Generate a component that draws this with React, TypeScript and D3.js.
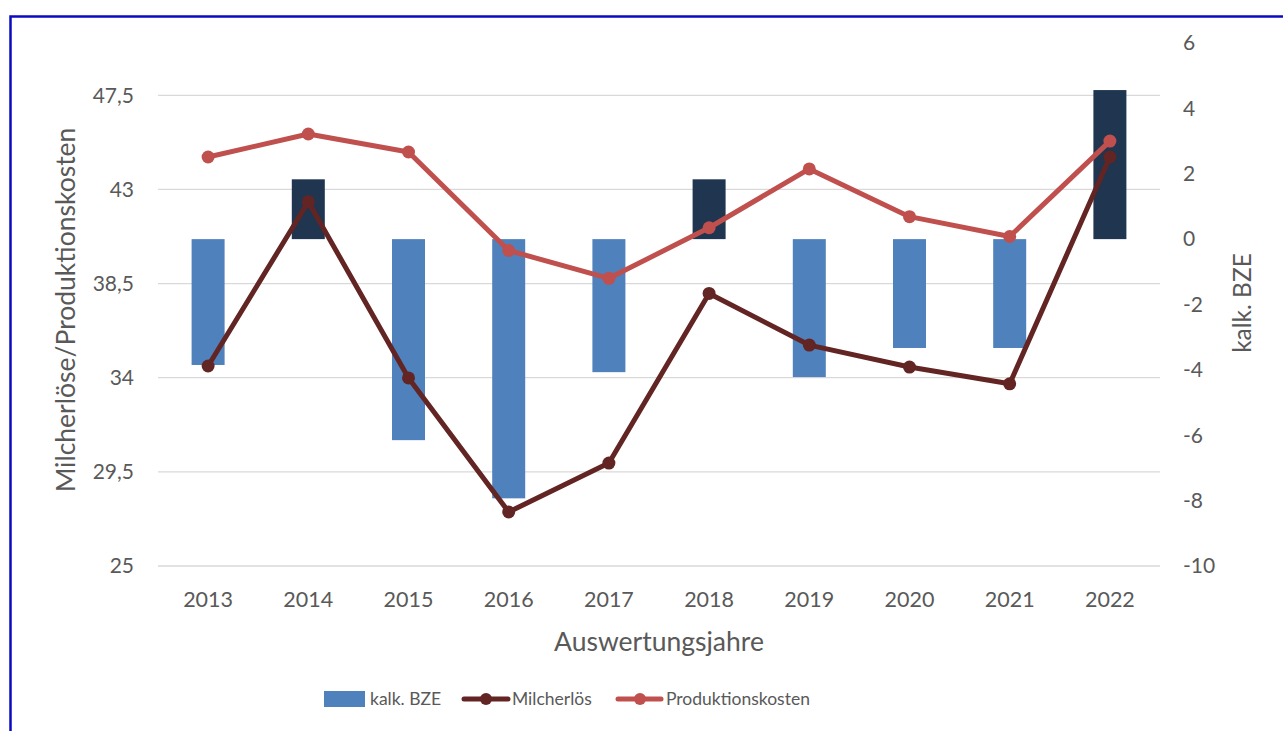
import * as d3 from "d3";
import React from "react";

const years = ["2013", "2014", "2015", "2016", "2017", "2018", "2019", "2020", "2021", "2022"];
const bze = [-3.85, 1.83, -6.15, -7.93, -4.07, 1.83, -4.22, -3.33, -3.33, 4.56];
const milcherloes = [34.56, 42.41, 33.99, 27.58, 29.92, 38.03, 35.56, 34.51, 33.71, 44.55];
const produktionskosten = [44.55, 45.65, 44.79, 40.08, 38.75, 41.17, 43.98, 41.7, 40.75, 45.31];
const leftTicks = [25, 29.5, 34, 38.5, 43, 47.5];
const rightTicks = [6, 4, 2, 0, -2, -4, -6, -8, -10];

const W = 1283;
const H = 731;
const FONT = "Lato, 'Open Sans', sans-serif";
const TEXT = "#595959";

export default function App() {
  const x0 = 158, x1 = 1160, yTop = 43, yBot = 566;

  const x = d3.scaleBand().domain(years).range([x0, x1]).paddingInner(0).paddingOuter(0);
  const yL = d3.scaleLinear().domain([25, 50]).range([yBot, yTop]);
  const yR = d3.scaleLinear().domain([-10, 6]).range([yBot, yTop]);
  const barW = 33;
  const cx = (y: string) => (x(y) as number) + x.bandwidth() / 2;

  const milchPath = d3.line<number>().x((_, i) => cx(years[i])).y((d) => yL(d))(milcherloes) as string;
  const prodPath = d3.line<number>().x((_, i) => cx(years[i])).y((d) => yL(d))(produktionskosten) as string;

  const fmt = (v: number) => String(v).replace(".", ",");

  return (
    <div style={{ position: "absolute", left: 0, top: 0 }}>
      <svg width={W} height={H} style={{ display: "block", background: "#fff" }}>
        <rect x={10.5} y={16.5} width={W + 20} height={H + 20} fill="none" stroke="#0a0ac0" strokeWidth={2.5} />

        {/* gridlines from left axis */}
        {leftTicks.map((t) => (
          <line key={t} x1={x0} x2={x1} y1={yL(t)} y2={yL(t)} stroke="#d9d9d9" strokeWidth={1.3} />
        ))}

        {/* bars */}
        {bze.map((v, i) => (
          <rect
            key={years[i]}
            x={cx(years[i]) - barW / 2}
            width={barW}
            y={Math.min(yR(v), yR(0))}
            height={Math.abs(yR(v) - yR(0))}
            fill={v >= 0 ? "#1f3550" : "#4f81bd"}
          />
        ))}

        {/* lines */}
        <path d={prodPath} fill="none" stroke="#c0504d" strokeWidth={5} strokeLinejoin="round" />
        {produktionskosten.map((v, i) => (
          <circle key={"p" + i} cx={cx(years[i])} cy={yL(v)} r={6.5} fill="#c0504d" />
        ))}
        <path d={milchPath} fill="none" stroke="#632523" strokeWidth={5} strokeLinejoin="round" />
        {milcherloes.map((v, i) => (
          <circle key={"m" + i} cx={cx(years[i])} cy={yL(v)} r={6.5} fill="#632523" />
        ))}

        {/* left ticks */}
        {leftTicks.map((t) => (
          <text key={t} x={134} y={yL(t)} dy="0.35em" textAnchor="end" fontFamily={FONT} fontSize={21} fill={TEXT}>
            {fmt(t)}
          </text>
        ))}
        {/* right ticks */}
        {rightTicks.map((t) => (
          <text key={t} x={1183} y={yR(t)} dy="0.35em" textAnchor="start" fontFamily={FONT} fontSize={21} fill={TEXT}>
            {t}
          </text>
        ))}
        {/* x ticks */}
        {years.map((y) => (
          <text key={y} x={cx(y)} y={599} dy="0.35em" textAnchor="middle" fontFamily={FONT} fontSize={21.5} fill={TEXT}>
            {y}
          </text>
        ))}

        {/* axis titles */}
        <text transform="translate(66,310) rotate(-90)" dy="0.35em" textAnchor="middle" fontFamily={FONT} fontSize={26.5} fill={TEXT}>
          Milcherlöse/Produktionskosten
        </text>
        <text transform="translate(1242,303) rotate(-90)" dy="0.35em" textAnchor="middle" fontFamily={FONT} fontSize={24.5} fill={TEXT}>
          kalk. BZE
        </text>
        <text x={659} y={642} dy="0.35em" textAnchor="middle" fontFamily={FONT} fontSize={26.5} fill={TEXT}>
          Auswertungsjahre
        </text>

        {/* legend */}
        <g fontFamily={FONT} fontSize={17.5} fill={TEXT}>
          <rect x={324} y={691} width={41} height={16} fill="#4f81bd" />
          <text x={370} y={699} dy="0.35em">kalk. BZE</text>
          <line x1={464} x2={508} y1={699} y2={699} stroke="#632523" strokeWidth={5} strokeLinecap="round" />
          <circle cx={486} cy={699} r={6} fill="#632523" />
          <text x={512} y={699} dy="0.35em">Milcherlös</text>
          <line x1={618} x2={661} y1={699} y2={699} stroke="#c0504d" strokeWidth={5} strokeLinecap="round" />
          <circle cx={640} cy={699} r={6} fill="#c0504d" />
          <text x={666} y={699} dy="0.35em">Produktionskosten</text>
        </g>
      </svg>
    </div>
  );
}
